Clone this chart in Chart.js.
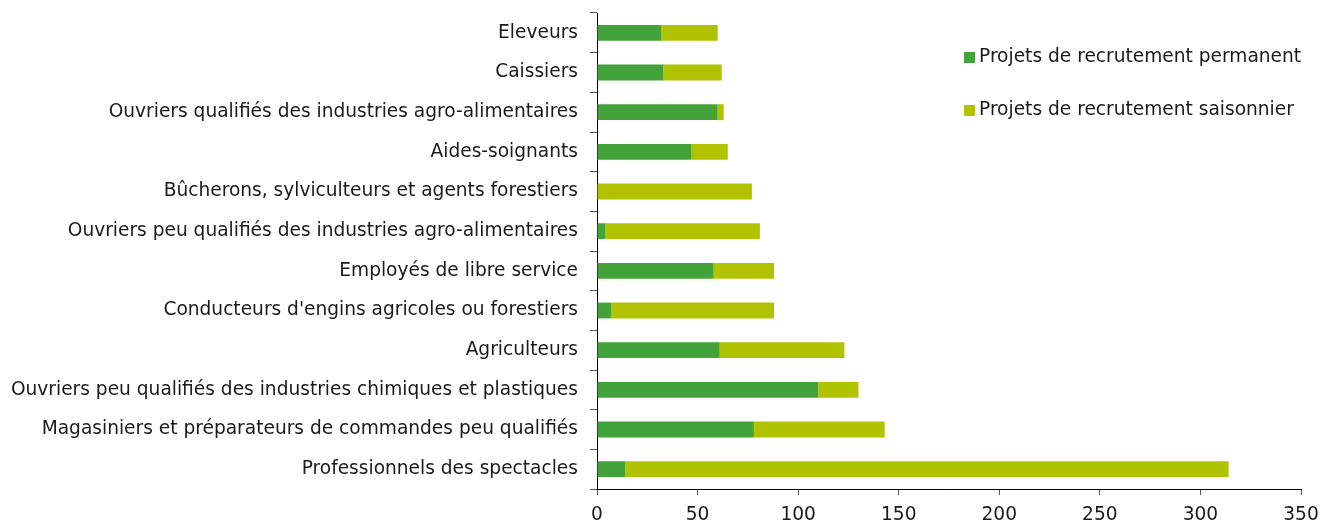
<!DOCTYPE html>
<html>
<head>
<meta charset="utf-8">
<script src="https://cdn.jsdelivr.net/npm/chart.js@4"></script>
<style>
  body { margin: 0; background: #fff; }
  #wrap { position: relative; width: 1320px; height: 520px; }
  #legend { position: absolute; left: 964px; top: 45px; font: 18.6px/22px "DejaVu Sans", Verdana, sans-serif; color: #1a1a1a; }
  #legend div { height: 53px; display: flex; align-items: flex-start; white-space: nowrap; }
  #legend span.box { display: inline-block; width: 11px; height: 11px; margin: 7px 4px 0 0; flex: none; }
</style>
</head>
<body>
<div id="wrap">
  <canvas id="recrutChart" width="1320" height="520"></canvas>
  <div id="legend"></div>
</div>
<script>
// metiers, du haut vers le bas
const metiers = [
    "Eleveurs",
    "Caissiers",
    "Ouvriers qualifiés des industries agro-alimentaires",
    "Aides-soignants",
    "Bûcherons, sylviculteurs et agents forestiers",
    "Ouvriers peu qualifiés des industries agro-alimentaires",
    "Employés de libre service",
    "Conducteurs d'engins agricoles ou forestiers",
    "Agriculteurs",
    "Ouvriers peu qualifiés des industries chimiques et plastiques",
    "Magasiniers et préparateurs de commandes peu qualifiés",
    "Professionnels des spectacles",
];
const permanent = [32, 33, 60, 47, 0, 4, 58, 7, 61, 110, 78, 14];
const saisonnier = [28, 29, 3, 18, 77, 77, 30, 81, 62, 20, 65, 300];
const xTicks = [0, 50, 100, 150, 200, 250, 300, 350];

const seriesNames = ["Projets de recrutement permanent", "Projets de recrutement saisonnier"];
const seriesColors = ["#43a33a", "#b0c200"];

Chart.defaults.font.family = '"DejaVu Sans", Verdana, sans-serif';
Chart.defaults.font.size = 18.6;
Chart.defaults.color = "#1a1a1a";

const recrutConfig = {
    type: "bar",
    data: {
        labels: metiers,
        datasets: [
            { label: seriesNames[0], data: permanent, backgroundColor: seriesColors[0] },
            { label: seriesNames[1], data: saisonnier, backgroundColor: seriesColors[1] },
        ],
    },
    options: {
        indexAxis: "y",
        responsive: false,
        animation: false,
        layout: { padding: { top: 13, left: 0, right: 19, bottom: 0 } },
        datasets: { bar: { categoryPercentage: 1, barPercentage: 0.4 } },
        plugins: {
            legend: { display: false },
            tooltip: { enabled: false },
        },
        scales: {
            x: {
                stacked: true,
                min: 0,
                max: 350,
                afterBuildTicks: (scale) => { scale.ticks = xTicks.map((v) => ({ value: v })); },
                afterFit: (scale) => {
                    scale.height = 31;
                    scale.paddingLeft = 0;
                    scale.paddingRight = 0;
                },
                grid: { drawOnChartArea: false, tickLength: 6, color: "#555" },
                border: { color: "#000", width: 1 },
                ticks: { padding: 9, maxRotation: 0 },
            },
            y: {
                stacked: true,
                // largeur fixe, pas de marge haut/bas pour les libelles
                afterFit: (scale) => {
                    scale.width = 597;
                    scale.paddingTop = 0;
                    scale.paddingBottom = 0;
                },
                grid: { drawOnChartArea: false, offset: true, tickLength: 7, color: "#555" },
                border: { color: "#000", width: 1 },
                ticks: { padding: 12, autoSkip: false },
            },
        },
    },
};

const recrutCtx = document.getElementById("recrutChart");
window.recrutChart = new Chart(recrutCtx, recrutConfig);

// legende HTML, placee dans la zone vide en haut a droite
const legendEl = document.getElementById("legend");
seriesNames.forEach((name, i) => {
    const row = document.createElement("div");
    row.innerHTML = '<span class="box" style="background:' + seriesColors[i] + '"></span>' + name;
    legendEl.appendChild(row);
});
</script>
</body>
</html>
